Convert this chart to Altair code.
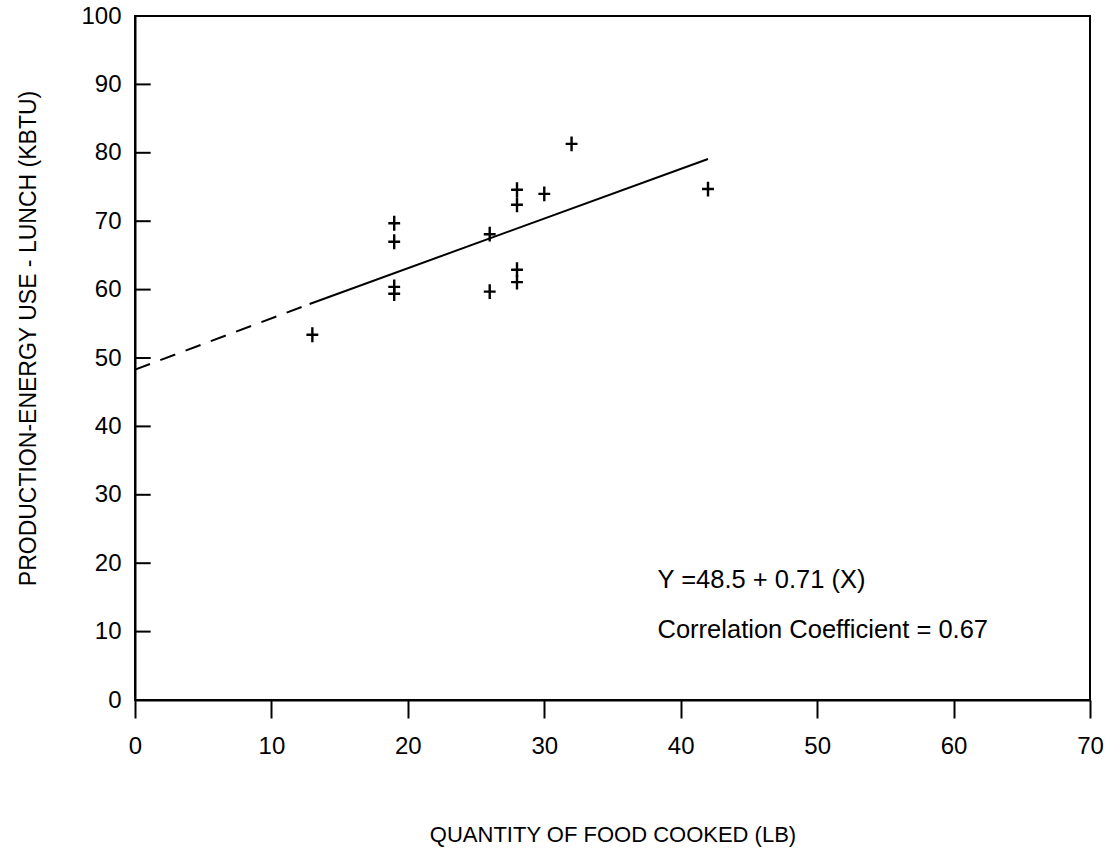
import altair as alt
import pandas as pd

# Observed points (lb, kBtu)
food_lb = [13, 19, 19, 19, 19, 26, 26, 28, 28, 28, 28, 30, 32, 42]
energy_kbtu = [53.4, 69.7, 67.0, 60.4, 59.4, 68.1, 59.7, 74.6, 72.4, 62.9, 61.1, 74.0, 81.3, 74.7]

# Regression line
dash_x = [0, 12.8]
dash_y = [48.3, 57.9]
solid_x = [12.8, 42]
solid_y = [57.9, 79.1]

x_ticks = [0, 10, 20, 30, 40, 50, 60, 70]
y_ticks = [0, 10, 20, 30, 40, 50, 60, 70, 80, 90, 100]

notes = ["Y =48.5 + 0.71 (X)", "Correlation Coefficient = 0.67"]
note_x = [38.3, 38.3]
note_y = [17.6, 10.3]

FONT = "Liberation Sans"

pts = pd.DataFrame({"x": food_lb, "y": energy_kbtu})
dash_df = pd.DataFrame({"x": dash_x, "y": dash_y})
solid_df = pd.DataFrame({"x": solid_x, "y": solid_y})
ytick_df = pd.DataFrame({"y": y_ticks, "x0": [0] * len(y_ticks), "x1": [1.15] * len(y_ticks)})
note_df = pd.DataFrame({"t": notes, "x": note_x, "y": note_y})

xscale = alt.Scale(domain=[0, 70], nice=False, zero=False)
yscale = alt.Scale(domain=[0, 100], nice=False, zero=False)

xaxis = alt.Axis(values=x_ticks, title="QUANTITY OF FOOD COOKED (LB)", grid=False,
                 tickSize=18, tickWidth=2, tickColor="black", domainColor="black",
                 domainWidth=2, labelPadding=16, labelFontSize=24, labelColor="black",
                 labelFlush=False,
                 titleFontSize=22, titleFontWeight="normal", titleColor="black",
                 titlePadding=66, labelFont=FONT, titleFont=FONT)
yaxis = alt.Axis(values=y_ticks, title="PRODUCTION-ENERGY USE - LUNCH (KBTU)", grid=False,
                 ticks=False, domainColor="black", domainWidth=2, labelPadding=14,
                 labelFontSize=24, labelColor="black", labelFlush=False,
                 titleFontSize=23, titleFontWeight="normal", titleColor="black",
                 titlePadding=40, titleY=322, labelFont=FONT, titleFont=FONT)

cross = "M-0.8,0L0.8,0M0,-1L0,1"

points = alt.Chart(pts).mark_point(shape=cross, filled=False, stroke="black",
                                    strokeWidth=2.4, size=220, opacity=1).encode(
    x=alt.X("x:Q", scale=xscale, axis=xaxis),
    y=alt.Y("y:Q", scale=yscale, axis=yaxis),
)

dashed = alt.Chart(dash_df).mark_line(color="black", strokeWidth=2,
                                       strokeDash=[16, 11]).encode(
    x=alt.X("x:Q", scale=xscale), y=alt.Y("y:Q", scale=yscale))

solid = alt.Chart(solid_df).mark_line(color="black", strokeWidth=2).encode(
    x=alt.X("x:Q", scale=xscale), y=alt.Y("y:Q", scale=yscale))

yticks = alt.Chart(ytick_df).mark_rule(color="black", strokeWidth=2).encode(
    x=alt.X("x0:Q", scale=xscale), x2="x1:Q", y=alt.Y("y:Q", scale=yscale))

text = alt.Chart(note_df).mark_text(align="left", baseline="middle", fontSize=25.5,
                                     font=FONT, color="black").encode(
    x=alt.X("x:Q", scale=xscale), y=alt.Y("y:Q", scale=yscale), text="t:N")

chart = alt.layer(points, dashed, solid, yticks, text).properties(
    width=955, height=684,
    autosize=alt.AutoSizeParams(type="none"),
    padding={"left": 135, "top": 16, "right": 18, "bottom": 153},
    background="white",
).configure_view(stroke="black", strokeWidth=2)

chart.save("out.html", embed_options={"renderer": "svg", "actions": False})
